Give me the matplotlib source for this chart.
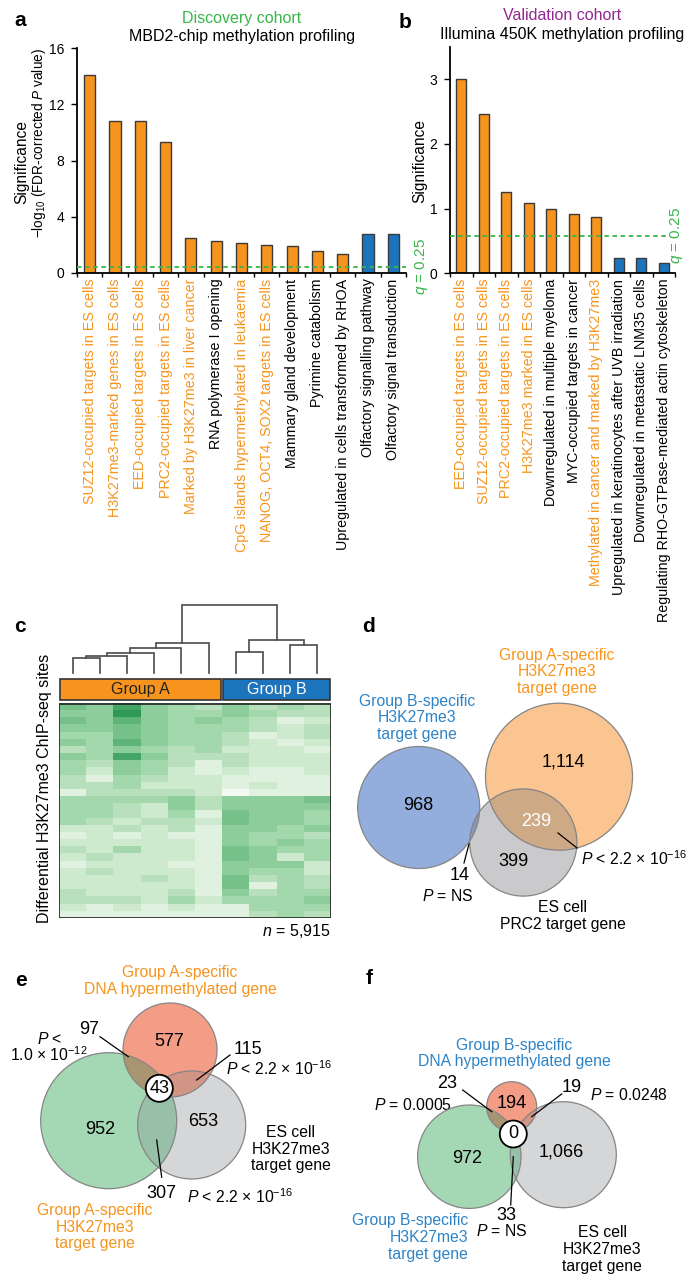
import numpy as np
import matplotlib
matplotlib.use("Agg")
import matplotlib.pyplot as plt
from matplotlib.patches import Circle, Rectangle
from matplotlib.colors import LinearSegmentedColormap, to_rgb

plt.rcParams['font.family'] = ['Liberation Sans', 'DejaVu Sans']
plt.rcParams['mathtext.fontset'] = 'custom'
plt.rcParams['mathtext.rm'] = 'Liberation Sans'
plt.rcParams['mathtext.it'] = 'Liberation Sans:italic'
plt.rcParams['mathtext.bf'] = 'Liberation Sans:bold'
plt.rcParams['font.size'] = 11

ORANGE = '#F7941D'
BLUE = '#1C75BC'
TXT_OR = '#F7941D'
TXT_BL = '#2E83C6'
GREEN = '#39B54A'
PURPLE = '#92278F'

# ---- panel a: discovery cohort ----
terms_a = ['SUZ12-occupied targets in ES cells',
           'H3K27me3-marked genes in ES cells',
           'EED-occupied targets in ES cells',
           'PRC2-occupied targets in ES cells',
           'Marked by H3K27me3 in liver cancer',
           'RNA polymerase I opening',
           'CpG islands hypermethylated in leukaemia',
           'NANOG, OCT4, SOX2 targets in ES cells',
           'Mammary gland development',
           'Pyrimine catabolism',
           'Upregulated in cells transformed by RHOA',
           'Olfactory signalling pathway',
           'Olfactory signal transduction']
sig_a = [14.1, 10.8, 10.8, 9.3, 2.5, 2.3, 2.15, 2.0, 1.9, 1.6, 1.35, 2.8, 2.75]
up_a = [1, 1, 1, 1, 1, 1, 1, 1, 1, 1, 1, 0, 0]
prc_a = [1, 1, 1, 1, 1, 0, 1, 1, 0, 0, 0, 0, 0]
q_a = 0.45

# ---- panel b: validation cohort ----
terms_b = ['EED-occupied targets in ES cells',
           'SUZ12-occupied targets in ES cells',
           'PRC2-occupied targets in ES cells',
           'H3K27me3 marked in ES cells',
           'Downregulated in multiple myeloma',
           'MYC-occupied targets in cancer',
           'Methylated in cancer and marked by H3K27me3',
           'Upregulated in keratinocytes after UVB irradiation',
           'Downregulated in metastatic LNM35 cells',
           'Regulating RHO-GTPase-mediated actin cytoskeleton']
sig_b = [3.0, 2.46, 1.26, 1.08, 0.99, 0.92, 0.87, 0.23, 0.23, 0.16]
up_b = [1, 1, 1, 1, 1, 1, 1, 0, 0, 0]
prc_b = [1, 1, 1, 1, 0, 0, 1, 0, 0, 0]
q_b = 0.58

# ---- panel c: H3K27me3 heatmap (10 samples, 6 group A + 4 group B) ----
groups = ['Group A', 'Group B']
group_sizes = [6, 4]
heat = [
    [6, 5, 8, 5, 4, 3, 5, 3, 4, 3],
    [5, 5, 9, 5, 4, 4, 5, 4, 3, 3],
    [6, 5, 7, 5, 4, 5, 4, 3, 1, 2],
    [5, 5, 6, 5, 4, 4, 4, 3, 2, 3],
    [4, 4, 6, 5, 4, 4, 3, 1, 2, 3],
    [5, 4, 7, 5, 4, 4, 3, 2, 1, 2],
    [3, 4, 5, 4, 3, 4, 2, 2, 2, 1],
    [5, 4, 8, 5, 3, 3, 3, 2, 2, 2],
    [4, 3, 5, 4, 3, 1, 3, 2, 2, 2],
    [4, 2, 5, 4, 2, 1, 2, 1, 1, 2],
    [3, 1, 4, 3, 2, 2, 1, 1, 1, 1],
    [3, 3, 4, 2, 2, 2, 1, 2, 1, 1],
    [1, 3, 3, 3, 3, 2, 0, 1, 1, 1],
    [4, 4, 4, 4, 5, 3, 5, 5, 5, 6],
    [4, 4, 3, 2, 5, 3, 5, 5, 5, 5],
    [4, 4, 3, 2, 4, 1, 6, 5, 5, 4],
    [4, 3, 2, 3, 3, 2, 6, 5, 5, 4],
    [2, 2, 3, 2, 3, 1, 5, 5, 4, 5],
    [1, 2, 1, 2, 1, 1, 5, 4, 4, 3],
    [2, 2, 2, 2, 2, 1, 5, 4, 5, 4],
    [3, 2, 4, 2, 2, 1, 6, 5, 4, 4],
    [2, 3, 2, 2, 2, 1, 6, 5, 2, 4],
    [1, 2, 2, 2, 1, 1, 5, 5, 5, 2],
    [2, 3, 2, 2, 2, 1, 5, 4, 4, 2],
    [2, 2, 2, 3, 2, 1, 6, 3, 4, 3],
    [2, 2, 2, 2, 2, 1, 6, 1, 4, 3],
    [3, 2, 2, 2, 3, 1, 5, 3, 4, 4],
    [3, 3, 3, 2, 4, 2, 4, 4, 4, 5],
    [2, 1, 2, 1, 2, 1, 1, 4, 4, 4],
    [1, 1, 1, 1, 1, 1, 1, 3, 4, 3],
]
n_sites = '5,915'
# sample clustering: (left node, right node, merge height)
links = [(0, 1, 15), (10, 2, 17), (11, 3, 20), (12, 4, 25), (13, 5, 30),
         (6, 7, 21), (8, 9, 28), (15, 16, 33), (14, 17, 68)]

# ---- panels d-f: overlap counts ----
d_counts = {'B only': '968', 'A only': '1,114', 'A & ES': '239', 'ES only': '399', 'B & ES': '14'}
e_counts = {'DNA': '577', 'DNA & K27': '97', 'DNA & ES': '115', 'all': '43',
            'K27': '952', 'ES': '653', 'K27 & ES': '307'}
f_counts = {'DNA': '194', 'DNA & K27': '23', 'DNA & ES': '19', 'all': '0',
            'K27': '972', 'ES': '1,066', 'K27 & ES': '33'}

W, H = 697, 1276
fig = plt.figure(figsize=(W / 100, H / 100), dpi=100)


def px_axes(x0, y0, x1, y1):
    return fig.add_axes([x0 / W, 1 - y1 / H, (x1 - x0) / W, (y1 - y0) / H])


def bar_panel(ax, terms, vals, up, prc, ymax, yticks, qline, q_end, q_x):
    n = len(vals)
    x = np.arange(n)
    cols = [ORANGE if u else BLUE for u in up]
    ax.bar(x, vals, width=0.44, color=cols, edgecolor='#3a3a3a', linewidth=1.0, zorder=2)
    ax.plot([-0.5, q_end], [qline, qline], color=GREEN, ls=(0, (2.5, 2)), lw=1.3, zorder=3)
    ax.set_xlim(-0.5, n - 0.5)
    ax.set_ylim(0, ymax)
    ax.set_yticks(yticks)
    ax.set_xticks(x)
    ax.set_xticklabels(terms, rotation=90, fontsize=10.3)
    for lbl, p in zip(ax.get_xticklabels(), prc):
        lbl.set_color(TXT_OR if p else 'black')
    ax.set_xticks(np.arange(-0.5, n), minor=True)
    ax.tick_params(axis='x', which='major', length=0, pad=4)
    ax.tick_params(axis='x', which='minor', length=3, width=1)
    ax.tick_params(axis='y', length=4, width=1, labelsize=10, pad=5)
    for s in ['top', 'right']:
        ax.spines[s].set_visible(False)
    for s in ['left', 'bottom']:
        ax.spines[s].set_linewidth(1.3)
    ax.text(q_x, qline, '$q$ = 0.25', rotation=90, color=GREEN, fontsize=11,
            ha='left', va='center', clip_on=False)


ax_a = px_axes(77, 48, 406, 273)
bar_panel(ax_a, terms_a, sig_a, up_a, prc_a, 16, [0, 4, 8, 12, 16], q_a, 12.5, 12.78)
ax_b = px_axes(450, 46.7, 675, 273.3)
bar_panel(ax_b, terms_b, sig_b, up_b, prc_b, 3.5, [0, 1, 2, 3], q_b, 9.14, 9.19)

# ---- panel c ----
ax_c = px_axes(59, 600, 331, 918)
cmap = LinearSegmentedColormap.from_list(
    'k27', [(0, '#F4FAF2'), (0.3, '#BFE3C1'), (0.6, '#85CA95'), (1, '#2E9856')])
ax_c.imshow(np.array(heat), cmap=cmap, vmin=0, vmax=9, aspect='auto',
            interpolation='nearest', extent=(0, 10, 918, 704))
ax_c.add_patch(Rectangle((0, 704), 10, 214, fill=False, ec='#222222', lw=1.2, zorder=3))
x0 = 0
for g, n, fc, tc in zip(groups, group_sizes, [ORANGE, BLUE], ['#222222', 'white']):
    ax_c.add_patch(Rectangle((x0 + 0.03, 679), n - 0.06, 21, fc=fc, ec='#333333', lw=1.2))
    ax_c.text(x0 + n / 2, 690, g, color=tc, fontsize=11.5, ha='center', va='center')
    x0 += n
# dendrogram
base = 673
pos = {i: i + 0.5 for i in range(10)}
hgt = {i: 0 for i in range(10)}
for k, (a, b, h) in enumerate(links):
    ax_c.plot([pos[a], pos[a], pos[b], pos[b]],
              [base - hgt[a], base - h, base - h, base - hgt[b]],
              color='#4a4a4a', lw=1.2, solid_joinstyle='miter')
    pos[10 + k] = (pos[a] + pos[b]) / 2
    hgt[10 + k] = h
ax_c.set_xlim(0, 10)
ax_c.set_ylim(918, 600)
ax_c.axis('off')

# ---- overlay in pixel units for titles and Venn diagrams ----
ov = fig.add_axes([0, 0, 1, 1])
ov.set_xlim(0, W)
ov.set_ylim(H, 0)
ov.axis('off')
ov.patch.set_visible(False)


def t(x, y, s, **kw):
    kw.setdefault('ha', 'center')
    kw.setdefault('va', 'center')
    ov.text(x, y, s, **kw)


for lab, (x, y) in zip('abcdef', [(14, 20), (399, 23), (14, 627), (362, 627), (15, 981), (366, 979)]):
    t(x, y, lab, fontsize=15, fontweight='bold', ha='left')

t(242, 22.5, 'Discovery cohort', color=GREEN, fontsize=11.5, va='baseline')
t(242, 40.5, 'MBD2-chip methylation profiling', fontsize=11.5, va='baseline')
t(562, 20, 'Validation cohort', color=PURPLE, fontsize=11.5, va='baseline')
t(562, 39.3, 'Illumina 450K methylation profiling', fontsize=11.5, va='baseline')
t(22, 162, 'Significance', rotation=90, fontsize=11.2)
t(39.5, 143, '−log$_{10}$ (FDR-corrected $P$ value)', rotation=90, fontsize=9.8)
t(420, 161, 'Significance', rotation=90, fontsize=11.2)
t(45, 788, 'Differential H3K27me3 ChIP-seq sites', rotation=90, fontsize=11.5)
t(331, 931, '$n$ = ' + n_sites, ha='right', fontsize=11.5)


def blend(c1, c2):
    a, b = np.array(to_rgb(c1)), np.array(to_rgb(c2))
    return tuple(0.7 * a * b + 0.3 * (a + b) / 2)


def venn(circles, colors):
    for (cx, cy, r), c in zip(circles, colors):
        ov.add_patch(Circle((cx, cy), r, fc=c, ec='none', zorder=2))
    for i in range(len(circles)):
        for j in range(i + 1, len(circles)):
            p = Circle(circles[j][:2], circles[j][2], fc=blend(colors[i], colors[j]), ec='none', zorder=3)
            p.set_clip_path(Circle(circles[i][:2], circles[i][2], transform=ov.transData))
            ov.add_patch(p)
    for cx, cy, r in circles:
        ov.add_patch(Circle((cx, cy), r, fill=False, ec='#858585', lw=0.9, zorder=4))


def leader(x0, y0, x1, y1):
    ov.plot([x0, x1], [y0, y1], color='black', lw=0.9, zorder=5)


def ring(x, y, s):
    ov.add_patch(Circle((x, y), 13.5, fc='white', ec='black', lw=1.3, zorder=6))
    t(x, y, s, fontsize=13, zorder=7)


NUM = 13
LAB = 11.3
P16 = '$P$ < 2.2 × 10$^{-16}$'

# ---- panel d ----
venn([(418.7, 807.5, 61), (559, 776.7, 73.5), (523.3, 842.5, 53.6)],
     ['#93AEDD', '#FAC590', '#CACACC'])
t(417, 718, 'Group B-specific\nH3K27me3\ntarget gene', color=TXT_BL, fontsize=LAB, linespacing=1.15)
t(557, 672, 'Group A-specific\nH3K27me3\ntarget gene', color=TXT_OR, fontsize=LAB, linespacing=1.15)
t(418, 806, d_counts['B only'], fontsize=NUM, zorder=7)
t(563, 762, d_counts['A only'], fontsize=NUM, zorder=7)
t(536, 821, d_counts['A & ES'], fontsize=NUM, color='white', zorder=7)
t(513, 862, d_counts['ES only'], fontsize=NUM, zorder=7)
t(460, 876, d_counts['B & ES'], fontsize=NUM)
t(448, 896, '$P$ = NS', fontsize=LAB)
leader(469, 844, 464, 863)
leader(558, 833, 577, 848)
t(581, 859, P16, fontsize=LAB, ha='left')
t(563, 916, 'ES cell\nPRC2 target gene', fontsize=LAB, linespacing=1.15)

# ---- panel e ----
venn([(108.7, 1120.7, 68), (170, 1050, 47), (191.7, 1125, 54)],
     ['#A4D8B5', '#F39D87', '#D5D6D8'])
t(180, 981, 'Group A-specific\nDNA hypermethylated gene', color=TXT_OR, fontsize=LAB, linespacing=1.15)
t(169.3, 1041.7, e_counts['DNA'], fontsize=NUM, zorder=7)
t(89.3, 1029.3, e_counts['DNA & K27'], fontsize=NUM)
t(49.3, 1039.3, '$P$ <', fontsize=LAB)
t(49.3, 1055, '1.0 × 10$^{-12}$', fontsize=LAB)
leader(100, 1036.7, 128.3, 1056.7)
t(248, 1049, e_counts['DNA & ES'], fontsize=NUM)
leader(230, 1055, 196.7, 1080)
t(226, 1068.3, P16, fontsize=LAB, ha='left')
ring(159.3, 1088.3, e_counts['all'])
t(100, 1130, e_counts['K27'], fontsize=NUM, zorder=7)
t(203.3, 1121.7, e_counts['ES'], fontsize=NUM, zorder=7)
t(290.7, 1149, 'ES cell\nH3K27me3\ntarget gene', fontsize=LAB, linespacing=1.15)
t(161, 1194, e_counts['K27 & ES'], fontsize=NUM)
leader(156.7, 1140, 161.7, 1177.3)
t(186.7, 1196.7, P16, fontsize=LAB, ha='left')
t(95, 1227, 'Group A-specific\nH3K27me3\ntarget gene', color=TXT_OR, fontsize=LAB, linespacing=1.15)

# ---- panel f ----
venn([(469.3, 1156.7, 51.7), (511.7, 1106.7, 25), (563.3, 1154.7, 53)],
     ['#A4D8B5', '#F39D87', '#D5D6D8'])
t(514, 1053.5, 'Group B-specific\nDNA hypermethylated gene', color=TXT_BL, fontsize=LAB, linespacing=1.15)
t(511.7, 1103.3, f_counts['DNA'], fontsize=NUM, zorder=7)
t(447.3, 1083.5, f_counts['DNA & K27'], fontsize=NUM)
t(413.3, 1104.5, '$P$ = 0.0005', fontsize=LAB)
leader(462.7, 1090, 491.7, 1111.7)
t(571.7, 1087, f_counts['DNA & ES'], fontsize=NUM)
t(590, 1095, '$P$ = 0.0248', fontsize=LAB, ha='left')
leader(561.7, 1094, 531.7, 1116.7)
ring(513.3, 1134, f_counts['all'])
t(466.7, 1158.3, f_counts['K27'], fontsize=NUM, zorder=7)
t(561.7, 1151.7, f_counts['ES'], fontsize=NUM, zorder=7)
t(506.7, 1215, f_counts['K27 & ES'], fontsize=NUM)
leader(510.7, 1205, 513.3, 1156.7)
t(502.3, 1230.7, '$P$ = NS', fontsize=LAB)
t(468.3, 1237.5, 'Group B-specific\nH3K27me3\ntarget gene', color=TXT_BL, fontsize=LAB,
  ha='right', multialignment='right', linespacing=1.15)
t(602.3, 1249.3, 'ES cell\nH3K27me3\ntarget gene', fontsize=LAB, linespacing=1.15)

fig.savefig('out.png', dpi=100)
